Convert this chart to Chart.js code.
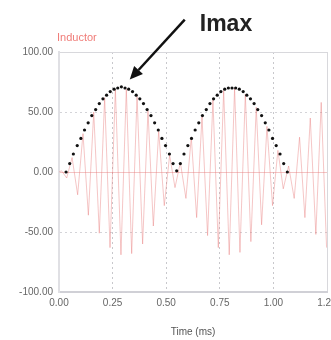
<!DOCTYPE html>
<html>
<head>
<meta charset="utf-8">
<script src="https://cdn.jsdelivr.net/npm/chart.js@4"></script>
<style>
  html, body { margin: 0; padding: 0; background: #fff; }
  #wrap { width: 331px; height: 340px; }
</style>
</head>
<body>
<div id="wrap"><canvas id="chart" width="331" height="340"></canvas></div>
<script>
// -------- DATA --------
const xTicks = [0, 0.25, 0.5, 0.75, 1.0, 1.25];
const yTicks = [-100, -50, 0, 50, 100];

// inductor current (pink trace), peaks and troughs
const inductorTime = [
    0, 0.012, 0.036, 0.061, 0.087, 0.112, 0.137, 0.162, 0.188, 0.213,
    0.238, 0.263, 0.289, 0.314, 0.339, 0.364, 0.390, 0.415, 0.440, 0.465,
    0.491, 0.516, 0.541, 0.566, 0.592, 0.617, 0.642, 0.667, 0.693, 0.718,
    0.743, 0.768, 0.794, 0.819, 0.844, 0.869, 0.895, 0.920, 0.945, 0.970,
    0.996, 1.021, 1.046, 1.071, 1.097, 1.122, 1.147, 1.172, 1.198, 1.223,
    1.248
];
const inductorCurrent = [
    0, 1, -5, 12, -19, 32, -36, 50, -51, 62,
    -63, 69, -69, 69, -68, 63, -60, 51, -45, 34,
    -28, 14, -13, 8, -22, 29, -38, 46, -53, 60,
    -63, 68, -69, 70, -67, 65, -58, 54, -44, 38,
    -28, 18, -14, 5, -22, 29, -38, 45, -52, 58,
    -63
];

// dotted Imax envelope
const envTime = [
    0.033, 0.050, 0.067, 0.085, 0.102, 0.119, 0.136, 0.153, 0.171, 0.188,
    0.205, 0.222, 0.239, 0.257, 0.274, 0.291, 0.308, 0.325, 0.343, 0.360,
    0.377, 0.394, 0.411, 0.429, 0.446, 0.463, 0.480, 0.497, 0.515, 0.532,
    0.549, 0.566, 0.583, 0.601, 0.618, 0.635, 0.652, 0.669, 0.687, 0.704,
    0.721, 0.738, 0.755, 0.773, 0.790, 0.807, 0.824, 0.841, 0.859, 0.876,
    0.893, 0.910, 0.927, 0.945, 0.962, 0.979, 0.996, 1.013, 1.031, 1.048,
    1.065
];
const envPeak = [
    0, 7, 15, 22, 28, 35, 41, 47, 52, 57,
    61, 64, 67, 69, 70, 71, 70, 69, 67, 64,
    61, 57, 52, 47, 41, 35, 28, 22, 15, 7,
    1, 7, 15, 22, 28, 35, 41, 47, 52, 57,
    61, 64, 67, 69, 70, 70, 70, 69, 67, 64,
    61, 57, 52, 47, 41, 35, 28, 22, 15, 7,
    0
];
// -------- END DATA --------

const FONT = "'Liberation Sans Narrow', 'Liberation Sans', Arial, sans-serif";

// -------- ANNOTATIONS --------
const annotationPlugin = {
    id: 'annotations',
    afterDraw(chart) {
        const { ctx, chartArea, scales } = chart;
        ctx.save();

        // series label above the plot
        ctx.font = '11px ' + FONT;
        ctx.fillStyle = '#f07c78';
        ctx.textBaseline = 'middle';
        ctx.textAlign = 'left';
        ctx.fillText('Inductor', chartArea.left - 2, chartArea.top - 14);

        // arrow pointing at the first envelope peak
        const tipX = scales.x.getPixelForValue(0.33);
        const tipY = scales.y.getPixelForValue(77);
        const tailX = tipX + 55;
        const tailY = tipY - 60;
        const ang = Math.atan2(tipY - tailY, tipX - tailX);
        const headLen = 13;
        const baseX = tipX - headLen * Math.cos(ang);
        const baseY = tipY - headLen * Math.sin(ang);

        ctx.strokeStyle = '#111';
        ctx.lineWidth = 2.5;
        ctx.beginPath();
        ctx.moveTo(tailX, tailY);
        ctx.lineTo(baseX, baseY);
        ctx.stroke();

        ctx.fillStyle = '#111';
        ctx.beginPath();
        ctx.moveTo(tipX, tipY);
        ctx.lineTo(baseX + 6 * Math.sin(ang), baseY - 6 * Math.cos(ang));
        ctx.lineTo(baseX - 6 * Math.sin(ang), baseY + 6 * Math.cos(ang));
        ctx.closePath();
        ctx.fill();

        ctx.font = 'bold 23px ' + "'Liberation Sans', Arial, sans-serif";
        ctx.fillStyle = '#222';
        ctx.textAlign = 'left';
        ctx.textBaseline = 'middle';
        ctx.fillText('Imax', tailX + 15, tailY + 5);

        ctx.restore();
    }
};
// -------- END ANNOTATIONS --------

// -------- CHART --------
const isEdge = (v) => v === xTicks[0] || v === xTicks[xTicks.length - 1] ||
                      v === yTicks[0] || v === yTicks[yTicks.length - 1];

new Chart(document.getElementById('chart'), {
    type: 'line',
    data: {
        datasets: [
            {
                label: 'Imax',
                data: envTime.map((t, i) => ({ x: t, y: envPeak[i] })),
                showLine: false,
                pointRadius: 1.6,
                pointBackgroundColor: '#111',
                pointBorderWidth: 0,
                order: 0
            },
            {
                label: 'Inductor',
                data: inductorTime.map((t, i) => ({ x: t, y: inductorCurrent[i] })),
                borderColor: 'rgba(232, 120, 120, 0.42)',
                borderWidth: 1,
                pointRadius: 0,
                tension: 0,
                order: 1
            }
        ]
    },
    options: {
        responsive: false,
        animation: false,
        layout: { autoPadding: false, padding: { top: 52, right: 4, left: 0, bottom: 0 } },
        plugins: {
            legend: { display: false },
            tooltip: { enabled: false }
        },
        scales: {
            x: {
                type: 'linear',
                min: xTicks[0],
                max: xTicks[xTicks.length - 1],
                afterBuildTicks: (scale) => { scale.ticks = xTicks.map(v => ({ value: v })); },
                afterFit: (scale) => {
                    scale.height = 48;
                    scale.paddingLeft = 0;
                    scale.paddingRight = 0;
                },
                ticks: {
                    padding: 5,
                    color: '#666',
                    font: { family: FONT, size: 10 },
                    callback: (v) => Number(v).toFixed(2),
                    maxRotation: 0
                },
                grid: {
                    drawTicks: false,
                    color: (c) => isEdge(c.tick && c.tick.value) ? '#d8d8dc' : '#c8c8cc',
                    lineWidth: 1
                },
                border: {
                    color: '#d0d0d6',
                    width: 2,
                    dash: (c) => (c.tick && isEdge(c.tick.value)) ? [] : [2, 3]
                },
                title: {
                    display: true,
                    text: 'Time (ms)',
                    color: '#555',
                    font: { family: FONT, size: 10 },
                    padding: { top: 4, bottom: 2 }
                }
            },
            y: {
                type: 'linear',
                min: yTicks[0],
                max: yTicks[yTicks.length - 1],
                afterBuildTicks: (scale) => { scale.ticks = yTicks.map(v => ({ value: v })); },
                afterFit: (scale) => {
                    scale.width = 59;
                    scale.paddingTop = 0;
                    scale.paddingBottom = 0;
                },
                ticks: {
                    padding: 6,
                    color: '#666',
                    font: { family: FONT, size: 10 },
                    callback: (v) => Number(v).toFixed(2)
                },
                grid: {
                    drawTicks: false,
                    color: (c) => {
                        const v = c.tick && c.tick.value;
                        if (v === 0) return 'rgba(232, 140, 140, 0.5)';
                        return isEdge(v) ? '#d8d8dc' : '#d4d4d8';
                    },
                    lineWidth: 1
                },
                border: {
                    color: '#e0e0e4',
                    width: 2,
                    dash: (c) => {
                        const v = c.tick && c.tick.value;
                        return (isEdge(v) || v === 0) ? [] : [2, 3];
                    }
                }
            }
        }
    },
    plugins: [annotationPlugin]
});
// -------- END CHART --------
</script>
</body>
</html>
